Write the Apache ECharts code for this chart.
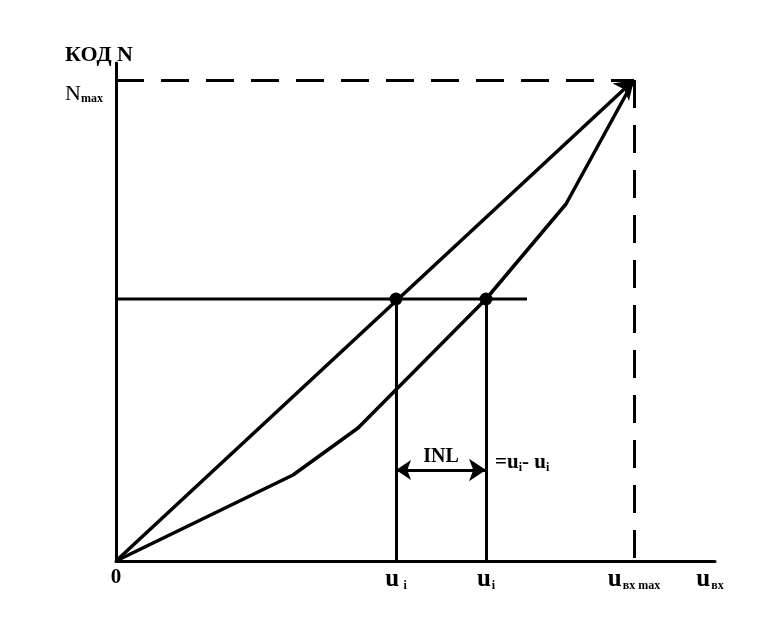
<!DOCTYPE html>
<html>
<head>
<meta charset="utf-8">
<script src="https://cdn.jsdelivr.net/npm/echarts@6/dist/echarts.min.js"></script>
<style>html,body{margin:0;padding:0;background:#fff;}#c{width:778px;height:633px;}</style>
</head>
<body>
<div id="c"></div>
<script>
// Data (x: input voltage units, y: code units)
const xMax = 599, yMax = 498;
const uMax = 518, nMax = 481;
const idealLine = [[0, 0], [uMax, nMax]];
const realCurve = [[0, 0], [177, 86], [242, 133], [370, 262], [450, 357], [uMax, nMax]];
const levelLine = [[0, 262], [411, 262]];
const points = [[280, 262], [370, 262]];
const dropLines = [[[280, 0], [280, 262]], [[370, 0], [370, 262]]];
const dashLines = [[[0, nMax], [uMax, nMax]], [[uMax, nMax], [uMax, 0]]];
const inlArrow = [[280, 91], [370, 91]];
const xTickValues = [0, 280, 370, 518, 594];
const xTickLabels = ['{z|0}', '{u|u} {s|i}', '{u|u}{s|i}', '{u|u}{s|вх max}', '{u|u}{s|вх}'];
const yTickValues = [nMax];
const yTickLabels = ['{n|N}{s|max}'];
const inlText = { pos: [325, 106], text: '{b|INL}' };
const eqText = { pos: [379, 98], text: '{t|=u}{s|i}{t|- u}{s|i}' };

const F = '"Liberation Serif", "Times New Roman", serif';
const chart = echarts.init(document.getElementById('c'), null, { renderer: 'canvas' });
const richX = {
  z: { fontFamily: F, fontWeight: 'bold', fontSize: 21, color: '#000' },
  u: { fontFamily: F, fontWeight: 'bold', fontSize: 25, color: '#000' },
  s: { fontFamily: F, fontWeight: 'bold', fontSize: 12, color: '#000', verticalAlign: 'bottom', padding: [0, 0, 0, 1] }
};
chart.setOption({
  animation: false,
  backgroundColor: '#fff',
  title: {
    text: 'КОД N', left: 60, top: 39,
    textStyle: { fontFamily: F, fontWeight: 'bold', fontSize: 22, color: '#000' }
  },
  grid: { left: 116, top: 63, right: 63, bottom: 72, containLabel: false },
  xAxis: {
    type: 'value', min: 0, max: xMax,
    splitLine: { show: false },
    axisLine: { show: true, onZero: false, lineStyle: { color: '#000', width: 3 } },
    axisTick: { show: false },
    axisLabel: {
      customValues: xTickValues, showMinLabel: true, showMaxLabel: true, margin: 6,
      formatter: function (v) { const i = xTickValues.indexOf(v); return i >= 0 ? xTickLabels[i] : ''; },
      rich: richX
    }
  },
  yAxis: {
    type: 'value', min: 0, max: yMax,
    splitLine: { show: false },
    axisLine: { show: true, onZero: false, lineStyle: { color: '#000', width: 3 } },
    axisTick: { show: false },
    axisLabel: {
      customValues: yTickValues, margin: 13, padding: [28, 0, 0, 0],
      formatter: function (v) { const i = yTickValues.indexOf(v); return i >= 0 ? yTickLabels[i] : ''; },
      rich: {
        n: { fontFamily: F, fontSize: 22, color: '#000' },
        s: { fontFamily: F, fontWeight: 'bold', fontSize: 12, color: '#000', verticalAlign: 'bottom' }
      }
    }
  },
  series: [
    { type: 'lines', coordinateSystem: 'cartesian2d', silent: true, z: 1,
      lineStyle: { color: '#000', width: 3, type: [28, 17], opacity: 1 },
      data: dashLines.map(c => ({ coords: c })) },
    { type: 'line', data: levelLine, symbol: 'none', silent: true,
      lineStyle: { color: '#000', width: 3 } },
    { type: 'lines', coordinateSystem: 'cartesian2d', silent: true,
      lineStyle: { color: '#000', width: 3, opacity: 1 },
      data: dropLines.map(c => ({ coords: c })) },
    { type: 'line', data: realCurve, symbol: 'none', silent: true,
      lineStyle: { color: '#000', width: 3.5 } },
    { type: 'lines', coordinateSystem: 'cartesian2d', silent: true, z: 3,
      symbol: ['none', 'arrow'], symbolSize: [12, 18],
      lineStyle: { color: '#000', width: 3.5, opacity: 1 },
      data: [{ coords: idealLine }] },
    { type: 'lines', coordinateSystem: 'cartesian2d', silent: true, z: 3,
      symbol: ['arrow', 'arrow'], symbolSize: [15, 17],
      lineStyle: { color: '#000', width: 3, opacity: 1 },
      data: [{ coords: inlArrow }] },
    { type: 'scatter', data: points, symbol: 'circle', symbolSize: 13, silent: true, z: 5,
      itemStyle: { color: '#000', opacity: 1 } },
    { type: 'scatter', silent: true, symbolSize: 0, z: 6, itemStyle: { opacity: 1, color: '#000' },
      data: [inlText.pos],
      label: { show: true, position: 'top', distance: -12, color: '#000', textBorderWidth: 0, formatter: inlText.text,
        rich: { b: { fontFamily: F, fontSize: 20, color: '#000', fontWeight: 'bold', textBorderWidth: 0 } } } },
    { type: 'scatter', silent: true, symbolSize: 0, z: 6, itemStyle: { opacity: 1, color: '#000' },
      data: [eqText.pos],
      label: { show: true, position: 'right', distance: 0, color: '#000', textBorderWidth: 0, formatter: eqText.text,
        rich: {
          t: { fontFamily: F, fontWeight: 'bold', fontSize: 21, color: '#000' },
          s: { fontFamily: F, fontWeight: 'bold', fontSize: 12, color: '#000', verticalAlign: 'bottom' }
        } } }
  ]
});
</script>
</body>
</html>
